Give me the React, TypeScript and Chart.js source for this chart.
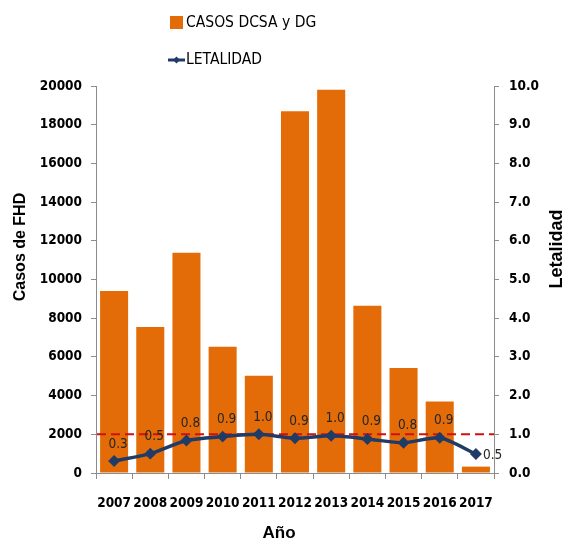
import React, { useEffect, useRef } from "react";
import { Chart, registerables } from "chart.js";

Chart.register(...registerables);

const categories = ["2007", "2008", "2009", "2010", "2011", "2012", "2013", "2014", "2015", "2016", "2017"];
const casos = [9410, 7550, 11380, 6520, 5020, 18700, 19800, 8640, 5420, 3690, 330];
const letalidad = [0.31, 0.5, 0.84, 0.94, 1.0, 0.9, 0.96, 0.88, 0.78, 0.91, 0.49];
const umbral = 1.0;
const legendLabels = ["CASOS DCSA y DG", "LETALIDAD"];
const yTitle = "Casos de FHD";
const y1Title = "Letalidad";
const xTitle = "Año";

const NARROW = "'Liberation Sans Narrow', 'Arial Narrow', 'DejaVu Sans Condensed', sans-serif";
const ARIAL = "'Liberation Sans', Arial, sans-serif";
const ORANGE = "#E36C09";
const NAVY = "#1F3B66";
const AXIS = "#8C8C8C";

const W = 562;
const H = 541;

export default function App() {
  const ref = useRef<HTMLCanvasElement | null>(null);

  useEffect(() => {
    const canvas = ref.current;
    if (!canvas) return;

    const refLine = {
      id: "refLine",
      afterDatasetDraw(chart: any, args: any) {
        if (args.index !== 0) return;
        const { ctx, chartArea } = chart;
        const y = chart.scales.y1.getPixelForValue(umbral);
        ctx.save();
        ctx.strokeStyle = "#D01010";
        ctx.lineWidth = 2;
        ctx.setLineDash([9, 5]);
        ctx.beginPath();
        ctx.moveTo(chartArea.left + 1, y);
        ctx.lineTo(chartArea.right, y);
        ctx.stroke();
        ctx.restore();
      },
    };

    const extras = {
      id: "extras",
      afterDatasetsDraw(chart: any) {
        const { ctx } = chart;
        const meta = chart.getDatasetMeta(1);
        ctx.save();
        ctx.fillStyle = "#262626";
        ctx.font = `13.5px ${NARROW}`;
        ctx.textBaseline = "middle";
        meta.data.forEach((pt: any, i: number) => {
          const txt = letalidad[i].toFixed(1);
          if (i === meta.data.length - 1) {
            ctx.textAlign = "left";
            ctx.fillText(txt, pt.x + 7, pt.y + 1);
          } else {
            ctx.textAlign = "center";
            ctx.fillText(txt, pt.x + 4, pt.y - 17);
          }
        });
        ctx.restore();
      },
      afterDraw(chart: any) {
        const { ctx } = chart;
        ctx.save();
        // Legend
        ctx.fillStyle = ORANGE;
        ctx.fillRect(170, 16, 13, 13);
        ctx.fillStyle = "#000";
        ctx.font = `15.5px ${NARROW}`;
        ctx.textAlign = "left";
        ctx.textBaseline = "middle";
        ctx.fillText(legendLabels[0], 186, 23);
        ctx.strokeStyle = NAVY;
        ctx.lineWidth = 3;
        ctx.beginPath();
        ctx.moveTo(168, 60);
        ctx.lineTo(185, 60);
        ctx.stroke();
        ctx.fillStyle = NAVY;
        ctx.beginPath();
        ctx.moveTo(176.5, 56.5);
        ctx.lineTo(180, 60);
        ctx.lineTo(176.5, 63.5);
        ctx.lineTo(173, 60);
        ctx.closePath();
        ctx.fill();
        ctx.fillStyle = "#000";
        ctx.fillText(legendLabels[1], 186, 60);

        // Axis titles
        ctx.font = `bold 16px ${ARIAL}`;
        ctx.textAlign = "center";
        ctx.textBaseline = "middle";
        ctx.save();
        ctx.translate(21, 247);
        ctx.rotate(-Math.PI / 2);
        ctx.fillText(yTitle, 0, 0);
        ctx.restore();
        ctx.save();
        ctx.translate(557, 249);
        ctx.rotate(-Math.PI / 2);
        ctx.font = `bold 18px ${ARIAL}`;
        ctx.fillText(y1Title, 0, 0);
        ctx.restore();
        ctx.font = `bold 17px ${ARIAL}`;
        ctx.fillText(xTitle, 279, 533);
        ctx.restore();
      },
    };

    const chart = new Chart(canvas, {
      type: "bar",
      data: {
        labels: categories,
        datasets: [
          {
            type: "bar",
            label: legendLabels[0],
            data: casos,
            backgroundColor: ORANGE,
            borderWidth: 0,
            barPercentage: 0.775,
            categoryPercentage: 1,
            yAxisID: "y",
            order: 2,
          },
          {
            type: "line",
            label: legendLabels[1],
            data: letalidad,
            borderColor: NAVY,
            backgroundColor: NAVY,
            borderWidth: 3.5,
            pointStyle: "rectRot",
            pointRadius: 3.5,
            tension: 0.25,
            yAxisID: "y1",
            order: 1,
          },
        ],
      },
      options: {
        responsive: false,
        animation: false,
        layout: { padding: { top: 86, left: 0, right: 0, bottom: 0 } },
        plugins: {
          legend: { display: false },
          tooltip: { enabled: false },
        },
        scales: {
          x: {
            afterFit(scale: any) {
              scale.height = H - 473;
            },
            grid: { drawOnChartArea: false, drawTicks: true, tickLength: 6, color: AXIS, offset: true },
            border: { color: AXIS },
            ticks: {
              color: "#000",
              font: { family: NARROW, size: 13.5, weight: "bold" },
              padding: 16,
              maxRotation: 0,
              autoSkip: false,
            },
          },
          y: {
            position: "left",
            min: 0,
            max: 20000,
            afterFit(scale: any) {
              scale.width = 96;
            },
            grid: { drawOnChartArea: false, drawTicks: true, tickLength: 5, color: AXIS },
            border: { color: AXIS },
            ticks: {
              stepSize: 2000,
              color: "#000",
              font: { family: NARROW, size: 13.5, weight: "bold" },
              padding: 9,
              callback: (v: any) => String(v),
            },
          },
          y1: {
            position: "right",
            min: 0,
            max: 10,
            afterFit(scale: any) {
              scale.width = W - 494;
            },
            grid: { drawOnChartArea: false, drawTicks: true, tickLength: 5, color: AXIS },
            border: { color: AXIS },
            ticks: {
              stepSize: 1,
              color: "#000",
              font: { family: NARROW, size: 13.5, weight: "bold" },
              padding: 10,
              callback: (v: any) => Number(v).toFixed(1),
            },
          },
        },
      },
      plugins: [refLine, extras],
    });

    return () => chart.destroy();
  }, []);

  return (
    <div style={{ position: "fixed", left: 0, top: 0, width: W, height: H, background: "#fff" }}>
      <canvas ref={ref} width={W} height={H} />
    </div>
  );
}
